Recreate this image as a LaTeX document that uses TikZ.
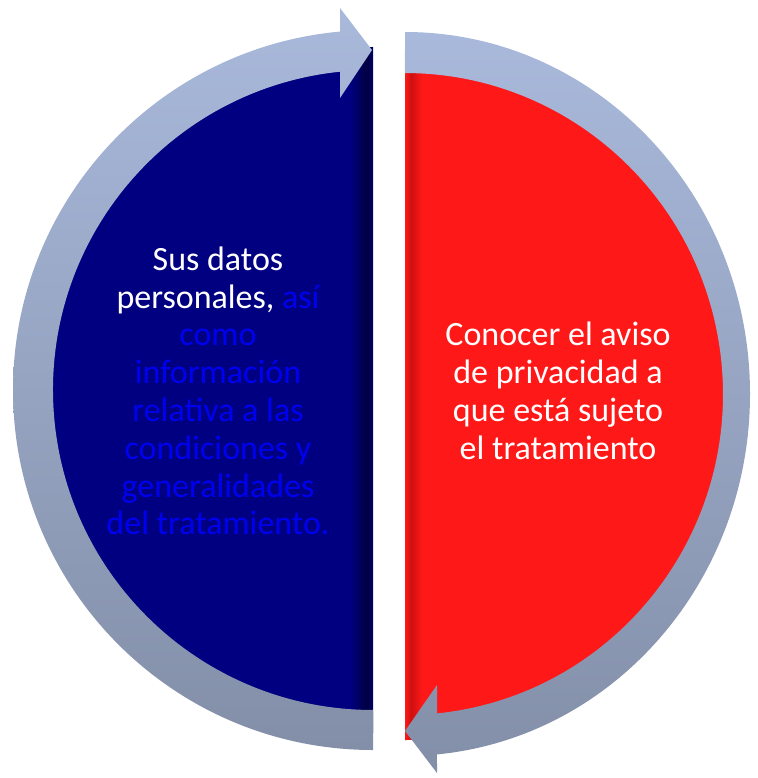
\documentclass[tikz,border=0pt]{standalone}
\usepackage{fontspec}
\setmainfont{Carlito}
\usetikzlibrary{calc}
\definecolor{navyfill}{RGB}{0,0,128}
\definecolor{navydark}{RGB}{0,0,60}
\definecolor{redfill}{RGB}{255,24,24}
\definecolor{reddark}{RGB}{205,16,16}
\definecolor{ringtop}{RGB}{169,185,219}
\definecolor{ringbot}{RGB}{131,143,168}
\definecolor{bluetext}{RGB}{0,0,240}
\tikzset{
  ring/.style={top color=ringtop,bottom color=ringbot,draw=none},
  txt/.style={align=center,inner sep=0pt,font=\fontsize{34}{37.8}\selectfont,text=white}
}
\begin{document}
\begin{tikzpicture}[x=1pt,y=-1pt]
\useasboundingbox (0,0) rectangle (757,778);
% half disks
\coordinate (cl) at (373,390);
\coordinate (cr) at (405,394);
\path[fill=navyfill] (373,733) arc[start angle=90,end angle=270,radius=343] -- cycle;
\begin{scope}
\clip (373,733) arc[start angle=90,end angle=270,radius=343] -- cycle;
\shade[left color=navyfill,right color=navydark] (350,0) rectangle (369,778);
\fill[navydark!60!navyfill] (369,0) rectangle (373,778);
\end{scope}
\path[fill=redfill] (405,48) arc[start angle=270,end angle=450,x radius=330,y radius=346] -- cycle;
\begin{scope}
\clip (405,48) arc[start angle=270,end angle=450,x radius=330,y radius=346] -- cycle;
\fill[redfill!70!white] (402,0) rectangle (405,778);
\shade[left color=reddark,right color=redfill] (411,0) rectangle (422,778);
\shade[left color=redfill,right color=reddark] (405,0) rectangle (411,778);
\end{scope}
% left ring with arrow
\path[ring] (373,750) arc[start angle=90,end angle=264.74,radius=360]
  -- (340,8) -- (372,50) -- (340,98) -- (340,71.7)
  arc[start angle=264.08,end angle=90,radius=320] -- cycle;
% right ring with arrow
\path[ring] (405,32) arc[start angle=270,end angle=444.68,x radius=345,y radius=362]
  -- (437,773) -- (405,731) -- (437,685) -- (437,713.4)
  arc[start angle=444.22,end angle=270,x radius=318,y radius=321] -- cycle;
% texts
\node[txt] (lt) at (218,391) {Sus datos\\personales, \textcolor{bluetext}{así}\\\textcolor{bluetext}{como}\\\textcolor{bluetext}{información}\\\textcolor{bluetext}{relativa a las}\\\textcolor{bluetext}{condiciones y}\\\textcolor{bluetext}{generalidades}\\\textcolor{bluetext}{del tratamiento.}};
\node[txt] (rt) at (558,391) {Conocer el aviso\\de privacidad a\\que está sujeto\\el tratamiento};
\end{tikzpicture}
\end{document}
